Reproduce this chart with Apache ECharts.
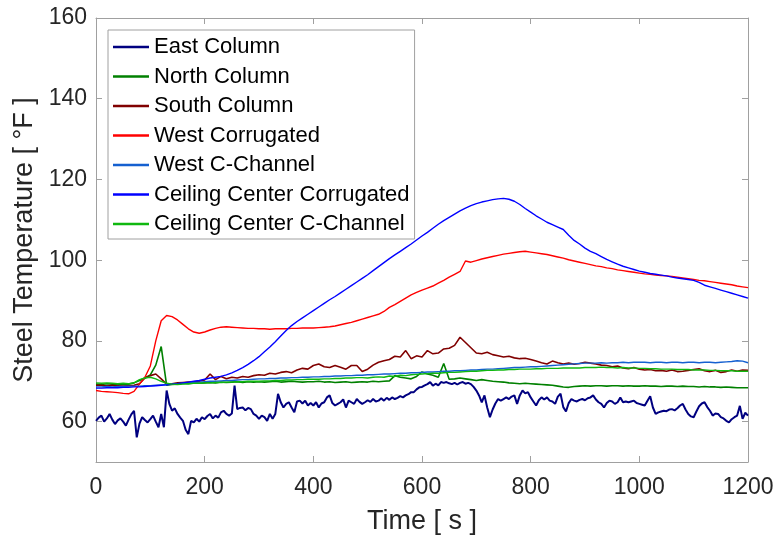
<!DOCTYPE html>
<html>
<head>
<meta charset="utf-8">
<script src="https://cdn.jsdelivr.net/npm/echarts@6/dist/echarts.min.js"></script>
<style>
  html, body { margin: 0; padding: 0; background: #ffffff; }
  #chart { width: 778px; height: 540px; }
</style>
</head>
<body>
<div id="chart"></div>
<script>
// Steel temperature logger, seven thermocouples, 0-1200 s.
const sensorNames = [
  'East Column', 'North Column', 'South Column', 'West Corrugated',
  'West C-Channel', 'Ceiling Center Corrugated', 'Ceiling Center C-Channel'
];

// East Column is logged every 5 s, the others every 10 s.
const eastStep = 5;
const sampleStep = 10;

const eastColumn = [
  60.2, 61.0, 61.5, 60.0, 60.8, 61.9, 60.5, 59.4, 60.3, 60.8,
  60.0, 59.0, 60.5, 61.8, 62.7, 56.1, 59.5, 61.1, 60.4, 59.8,
  60.6, 61.5, 60.0, 58.6, 61.9, 58.6, 67.7, 64.4, 62.7, 63.3,
  61.9, 61.0, 60.2, 58.0, 56.9, 60.2, 59.8, 60.7, 60.0, 61.1,
  60.6, 61.4, 61.9, 60.8, 61.5, 61.0, 62.3, 62.7, 61.9, 61.5,
  62.0, 68.9, 63.1, 63.4, 63.5, 62.8, 63.4, 63.1, 61.9, 61.5,
  60.7, 61.5, 61.1, 60.2, 61.9, 60.7, 61.9, 66.9, 64.8, 63.5,
  64.4, 64.8, 63.5, 62.3, 65.0, 65.2, 64.5, 65.2, 64.0, 64.6,
  64.0, 64.8, 63.5, 64.5, 64.8, 66.0, 66.5, 64.6, 64.0, 64.4,
  64.8, 65.5, 63.5, 65.2, 64.8, 64.4, 65.6, 64.9, 64.4, 64.8,
  65.3, 64.9, 65.6, 65.0, 65.2, 65.8, 65.2, 65.9, 65.4, 66.0,
  65.6, 65.9, 66.3, 66.0, 66.5, 66.8, 67.3, 67.3, 68.0, 68.5,
  68.6, 69.0, 69.3, 69.8, 68.9, 69.4, 69.0, 69.8, 69.6, 69.8,
  69.5, 69.3, 69.6, 69.2, 69.6, 69.8, 69.4, 69.6, 69.3, 68.6,
  67.7, 66.5, 64.8, 66.5, 63.5, 61.1, 63.0, 64.5, 65.6, 65.2,
  65.6, 66.0, 65.6, 66.2, 66.5, 64.4, 66.5, 67.7, 67.0, 67.3,
  66.0, 65.0, 64.0, 65.3, 66.0, 65.5, 66.0, 65.2, 65.0, 64.4,
  66.2, 66.9, 63.6, 62.5, 64.6, 65.6, 65.2, 65.0, 65.4, 65.6,
  65.3, 65.8, 66.0, 66.5, 65.5, 64.8, 64.4, 63.5, 64.6, 65.2,
  65.0, 64.4, 64.8, 66.0, 64.8, 65.0, 64.8, 65.0, 65.2, 64.6,
  64.4, 64.2, 64.0, 65.2, 66.3, 63.5, 61.9, 62.3, 62.5, 62.7,
  62.6, 63.0, 63.1, 62.8, 63.3, 64.0, 64.4, 63.0, 61.9, 61.3,
  61.1, 62.5, 63.8, 64.5, 64.8, 63.6, 62.7, 61.5, 62.0, 61.9,
  61.1, 60.8, 60.2, 59.8, 60.6, 61.1, 61.5, 63.9, 60.7, 62.2,
  61.5
];

const northColumn = [
  69.3, 69.2, 69.4, 69.3, 69.3, 69.2, 69.3, 69.6, 70.2, 70.8,
  71.6, 74.0, 78.6, 69.0, 69.2, 69.3, 69.5, 69.4, 69.6, 69.5,
  69.6, 69.7, 69.6, 69.8, 69.7, 69.8, 69.9, 69.7, 69.9, 69.8,
  69.9, 69.8, 69.9, 70.0, 69.8, 69.9, 70.0, 69.9, 69.8, 69.9,
  69.9, 70.0, 69.8, 69.9, 69.7, 69.8, 69.9, 69.7, 69.8, 69.9,
  69.8, 70.0, 69.9, 70.0, 70.1, 71.4, 71.0, 70.8, 70.6, 71.2,
  72.3, 71.8, 71.5, 71.0, 74.4, 70.5, 70.6, 70.8, 70.6, 70.4,
  70.2, 70.4, 70.2, 70.0, 69.9, 69.8, 69.6, 69.5, 69.4, 69.5,
  69.4, 69.3, 69.2, 69.1, 69.0, 68.8, 68.6, 68.5, 68.7, 68.8,
  68.9, 68.8, 68.9, 68.9, 68.8, 68.9, 68.9, 68.8, 68.9, 68.8,
  68.8, 68.9, 68.8, 68.8, 68.7, 68.8, 68.8, 68.7, 68.8, 68.7,
  68.7, 68.6, 68.7, 68.6, 68.6, 68.5, 68.6, 68.5, 68.4, 68.4,
  68.4
];

const southColumn = [
  69.0, 69.0, 68.9, 69.0, 68.9, 68.8, 68.9, 69.0, 69.4, 70.8,
  71.4, 71.8, 70.6, 69.3, 69.4, 69.6, 69.7, 69.8, 69.9, 70.0,
  70.3, 71.8, 70.4, 71.2, 70.6, 71.0, 70.8, 71.2, 71.0, 71.4,
  71.6, 71.5, 72.0, 71.8, 72.2, 72.4, 72.1, 72.8, 73.2, 73.0,
  73.9, 74.3, 73.6, 73.4, 73.9, 73.5, 73.0, 73.9, 73.9, 72.4,
  73.0, 74.0, 74.7, 75.1, 75.4, 76.2, 76.0, 77.6, 75.6, 76.3,
  76.0, 77.6, 76.8, 77.0, 78.0, 78.2, 78.9, 80.9, 79.6, 78.3,
  77.0, 76.8, 77.2, 76.6, 76.3, 76.0, 76.2, 75.8, 75.6, 75.7,
  75.4, 75.0, 74.6, 74.3, 75.0, 74.6, 74.3, 74.5, 74.2, 74.4,
  74.7, 74.5, 74.3, 74.0, 73.9, 73.6, 73.8, 73.3, 73.1, 73.4,
  73.0, 72.8, 72.9, 72.6, 72.7, 72.5, 72.8, 72.4, 72.5, 72.7,
  72.9, 73.1, 72.6, 72.4, 72.7, 72.2, 72.4, 72.8, 72.5, 72.8,
  72.7
];

const westCorrugated = [
  67.7, 67.5, 67.4, 67.3, 67.2, 67.0, 66.9, 67.5, 69.3, 71.0,
  73.8, 80.0, 85.0, 86.3, 86.0, 85.2, 84.1, 83.0, 82.2, 81.9,
  82.2, 82.7, 83.1, 83.4, 83.5, 83.4, 83.3, 83.2, 83.1, 83.1,
  83.0, 83.0, 82.9, 83.0, 83.0, 83.0, 83.1, 83.1, 83.2, 83.2,
  83.2, 83.3, 83.4, 83.5, 83.7, 84.0, 84.3, 84.6, 85.0, 85.4,
  85.8, 86.2, 86.6, 87.3, 88.3, 89.0, 89.8, 90.6, 91.4, 92.0,
  92.6, 93.1, 93.6, 94.3, 95.0, 95.8, 96.5, 97.2, 99.8, 99.5,
  99.9, 100.3, 100.6, 100.9, 101.2, 101.5, 101.7, 101.9, 102.1, 102.2,
  102.0, 101.8, 101.6, 101.4, 101.1, 100.8, 100.5, 100.1, 99.8, 99.5,
  99.2, 98.9, 98.6, 98.4, 98.1, 97.9, 97.6, 97.4, 97.2, 97.0,
  96.8, 96.6, 96.5, 96.3, 96.2, 96.1, 96.0, 95.8, 95.6, 95.4,
  95.2, 95.0, 94.9, 94.7, 94.5, 94.3, 94.1, 93.9, 93.6, 93.4,
  93.2
];

const westCChannel = [
  68.6, 68.6, 68.7, 68.6, 68.7, 68.7, 68.8, 68.8, 68.8, 68.9,
  68.9, 69.0, 69.1, 69.2, 69.3, 69.4, 69.5, 69.6, 69.7, 69.8,
  69.9, 70.0, 70.0, 70.1, 70.2, 70.2, 70.3, 70.4, 70.4, 70.5,
  70.6, 70.6, 70.7, 70.7, 70.8, 70.8, 70.9, 70.9, 71.0, 71.0,
  71.1, 71.1, 71.2, 71.2, 71.3, 71.3, 71.4, 71.4, 71.5, 71.5,
  71.6, 71.6, 71.7, 71.8, 71.8, 71.9, 72.0, 72.0, 72.1, 72.1,
  72.2, 72.3, 72.3, 72.4, 72.5, 72.5, 72.6, 72.6, 72.7, 72.8,
  72.8, 72.9, 73.0, 73.0, 73.1, 73.2, 73.3, 73.4, 73.4, 73.5,
  73.6, 73.6, 73.7, 73.8, 73.9, 74.0, 74.1, 74.2, 74.3, 74.4,
  74.5, 74.5, 74.5, 74.6, 74.5, 74.6, 74.6, 74.7, 74.6, 74.7,
  74.7, 74.7, 74.6, 74.7, 74.7, 74.6, 74.7, 74.7, 74.6, 74.7,
  74.7, 74.6, 74.7, 74.7, 74.6, 74.7, 74.8, 74.9, 75.1, 75.0,
  74.6
];

const ceilingCorrugated = [
  68.3, 68.3, 68.4, 68.4, 68.4, 68.5, 68.5, 68.6, 68.6, 68.7,
  68.8, 68.9, 69.0, 69.1, 69.3, 69.4, 69.6, 69.8, 70.0, 70.2,
  70.5, 70.8, 71.0, 71.2, 71.6, 72.1, 72.7, 73.4, 74.2, 75.1,
  76.1, 77.3, 78.5, 79.8, 81.2, 82.6, 83.8, 84.8, 85.7, 86.6,
  87.5, 88.4, 89.3, 90.2, 91.0, 91.9, 92.8, 93.7, 94.6, 95.5,
  96.4, 97.4, 98.4, 99.4, 100.4, 101.3, 102.2, 103.1, 104.0, 105.0,
  106.0, 106.9, 107.9, 108.9, 109.8, 110.6, 111.4, 112.2, 112.9, 113.5,
  114.0, 114.4, 114.7, 115.0, 115.2, 115.3, 115.1, 114.6, 113.8, 112.8,
  111.9, 111.0, 110.2, 109.4, 108.8, 108.2, 107.6, 106.2, 104.9, 104.0,
  103.0, 102.2, 101.6, 100.9, 100.2, 99.6, 99.0, 98.5, 98.1, 97.7,
  97.3, 97.0, 96.7, 96.5, 96.3, 96.1, 95.8, 95.6, 95.4, 95.2,
  95.0, 94.5, 93.8, 93.4, 93.0, 92.6, 92.2, 91.8, 91.4, 91.0,
  90.6
];

const ceilingCChannel = [
  69.6, 69.5, 69.6, 69.5, 69.4, 69.5, 69.4, 69.6, 70.4, 70.8,
  71.0, 70.6, 70.0, 69.5, 69.3, 69.2, 69.3, 69.4, 69.5, 69.5,
  69.6, 69.6, 69.7, 69.7, 69.8, 69.8, 69.9, 69.9, 70.0, 70.0,
  70.0, 70.1, 70.1, 70.2, 70.2, 70.3, 70.3, 70.4, 70.4, 70.5,
  70.5, 70.5, 70.6, 70.6, 70.7, 70.7, 70.8, 70.8, 70.9, 70.9,
  70.8, 71.0, 71.1, 71.0, 71.3, 71.2, 71.5, 71.4, 71.6, 71.7,
  71.8, 71.9, 72.0, 72.0, 72.1, 72.2, 72.2, 72.3, 72.4, 72.5,
  72.5, 72.6, 72.7, 72.7, 72.8, 72.8, 72.9, 72.9, 73.0, 73.0,
  73.0, 73.1, 73.1, 73.2, 73.2, 73.2, 73.3, 73.3, 73.3, 73.3,
  73.4, 73.4, 73.4, 73.5, 73.4, 73.4, 73.3, 73.4, 73.3, 73.3,
  73.2, 73.2, 73.1, 73.1, 73.0, 73.0, 73.0, 72.9, 72.9, 72.9,
  72.8, 72.8, 72.8, 72.7, 72.7, 72.6, 72.6, 72.6, 72.5, 72.5,
  72.5
];

const xTickValues = [0, 200, 400, 600, 800, 1000, 1200];
const yTickValues = [60, 80, 100, 120, 140, 160];

const seriesValues = [eastColumn, northColumn, southColumn, westCorrugated,
  westCChannel, ceilingCorrugated, ceilingCChannel];
const seriesSteps = [eastStep, sampleStep, sampleStep, sampleStep,
  sampleStep, sampleStep, sampleStep];
const seriesColors = ['#000080', '#008000', '#800000', '#ff0000',
  '#1560d0', '#0000ff', '#10b810'];
const seriesWidths = [2, 1.6, 1.6, 1.4, 1.4, 1.4, 1.4];

const FONT = '"Liberation Sans", Arial, Helvetica, sans-serif';
const AXIS_GRAY = '#a0a0a0';
const LABEL_GRAY = '#262626';
const plainNumber = (v) => String(v);

const chart = echarts.init(document.getElementById('chart'), null, { renderer: 'canvas' });

const tickStyle = (values) => ({
  show: true, inside: true, length: 6,
  lineStyle: { color: AXIS_GRAY }, customValues: values
});

const frameAxis = (position) => ({
  type: 'value', position,
  axisLine: { show: true, onZero: false, lineStyle: { color: AXIS_GRAY, width: 1 } },
  axisLabel: { show: false },
  splitLine: { show: false }
});

const xBottom = Object.assign(frameAxis('bottom'), {
  min: 0, max: 1200, interval: 200,
  axisLabel: { show: true, color: LABEL_GRAY, fontSize: 23, fontFamily: FONT, margin: 14,
    customValues: xTickValues, formatter: plainNumber },
  axisTick: tickStyle(xTickValues),
  name: 'Time [ s ]', nameLocation: 'middle', nameGap: 46,
  nameTextStyle: { color: LABEL_GRAY, fontSize: 27, fontFamily: FONT }
});
const xTop = Object.assign(frameAxis('top'), {
  min: 0, max: 1200, interval: 200,
  axisTick: tickStyle(xTickValues)
});
const yLeft = Object.assign(frameAxis('left'), {
  min: 50, max: 160,
  axisLabel: { show: true, color: LABEL_GRAY, fontSize: 23, fontFamily: FONT, margin: 9,
    customValues: yTickValues, formatter: plainNumber },
  axisTick: tickStyle(yTickValues),
  name: 'Steel Temperature [ °F ]', nameLocation: 'middle', nameGap: 50, nameRotate: 90,
  nameTextStyle: { color: LABEL_GRAY, fontSize: 27, fontFamily: FONT }
});
const yRight = Object.assign(frameAxis('right'), {
  min: 50, max: 160,
  axisTick: tickStyle(yTickValues)
});

const series = sensorNames.map((name, k) => ({
  name,
  type: 'line',
  xAxisIndex: 0,
  yAxisIndex: 0,
  data: seriesValues[k].map((v, i) => [i * seriesSteps[k], v]),
  showSymbol: false,
  symbol: 'none',
  sampling: null,
  lineStyle: { color: seriesColors[k], width: seriesWidths[k] },
  itemStyle: { color: seriesColors[k] },
  emphasis: { disabled: true },
  z: 2 + k
}));

chart.setOption({
  animation: false,
  backgroundColor: '#ffffff',
  grid: { left: 96, right: 30, top: 18, bottom: 78, containLabel: false },
  xAxis: [xBottom, xTop],
  yAxis: [yLeft, yRight],
  legend: {
    orient: 'vertical',
    left: 108, top: 30,
    padding: [5, 5, 3, 5],
    itemGap: 5.5,
    icon: 'rect',
    itemWidth: 36, itemHeight: 2.5,
    backgroundColor: '#ffffff',
    borderColor: AXIS_GRAY, borderWidth: 1,
    textStyle: { color: '#000000', fontSize: 22, fontFamily: FONT, lineHeight: 24 },
    data: sensorNames
  },
  series
});
</script>
</body>
</html>
